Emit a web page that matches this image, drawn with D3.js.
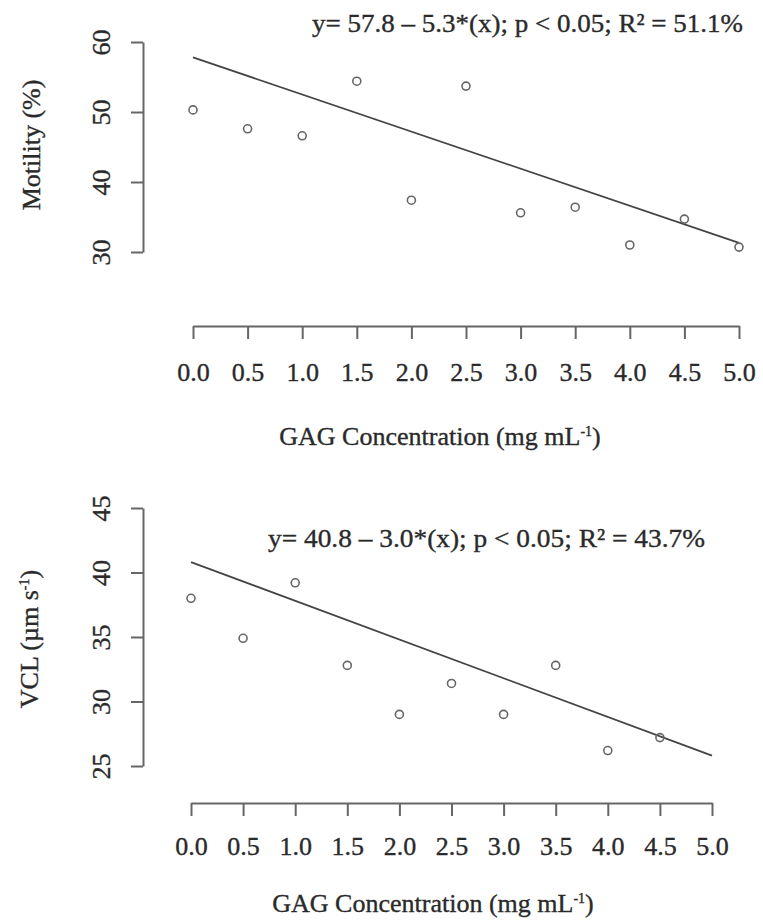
<!DOCTYPE html>
<html><head><meta charset="utf-8">
<script src="https://cdn.jsdelivr.net/npm/d3@7"></script>
<style>
html,body{margin:0;padding:0;background:#fff;}
svg{display:block;}
text{font-family:"Liberation Serif","Times New Roman",serif;fill:#2a2a2a;stroke:#2a2a2a;stroke-width:0.35px;}
</style></head>
<body>
<script>
// ---------- data ----------
const xTicks = [0, 0.5, 1, 1.5, 2, 2.5, 3, 3.5, 4, 4.5, 5];
const xTickLabels = ["0.0","0.5","1.0","1.5","2.0","2.5","3.0","3.5","4.0","4.5","5.0"];
const motilityConc = [0, 0.5, 1, 1.5, 2, 2.5, 3, 3.5, 4, 4.5, 5];
const motility = [50.3, 47.6, 46.6, 54.4, 37.4, 53.7, 35.6, 36.4, 31.0, 34.7, 30.7];
const motilityTicks = [30, 40, 50, 60];
const motilityFit = {intercept: 57.8, slope: -5.3};
const vclConc = [0, 0.5, 1, 1.5, 2, 2.5, 3, 3.5, 4, 4.5];
const vcl = [38.0, 34.9, 39.2, 32.8, 29.0, 31.4, 29.0, 32.8, 26.2, 27.2];
const vclTicks = [25, 30, 35, 40, 45];
const vclFit = {intercept: 40.8, slope: -3.0};
const fitRange = [0, 5];

const W = 763, H = 922;
const svg = d3.select("body").append("svg").attr("width", W).attr("height", H);

const FS = 26;
const axisColor = "#666";

function panel(cfg) {
  const g = svg.append("g");
  const x = d3.scaleLinear().domain([0, 5]).range(cfg.xRange);
  const y = d3.scaleLinear().domain(cfg.yDomain).range(cfg.yRange);

  // y axis
  const yAx = g.append("g").attr("transform", `translate(${cfg.yAxisX},0)`)
    .call(d3.axisLeft(y).tickValues(cfg.yTicks).tickSize(12).tickSizeOuter(0).tickFormat(d3.format("d")));
  yAx.selectAll("path,line").attr("stroke", axisColor).attr("stroke-width", 2);
  yAx.selectAll("text").attr("transform", "rotate(-90)").attr("x", 0).attr("y", -33).attr("dy", 0)
    .attr("text-anchor", "middle").style("font-size", FS + "px").style("font-family", "Liberation Serif").attr("fill", "#2a2a2a");

  // x axis
  const xAx = g.append("g").attr("transform", `translate(0,${cfg.xAxisY})`)
    .call(d3.axisBottom(x).tickValues(xTicks).tickSize(13).tickSizeOuter(0).tickFormat((d, i) => xTickLabels[i]));
  xAx.selectAll("path,line").attr("stroke", axisColor).attr("stroke-width", 2);
  xAx.selectAll("text").attr("y", cfg.xLabelOff).attr("dy", 0)
    .style("font-size", FS + "px").style("font-family", "Liberation Serif").attr("fill", "#2a2a2a");

  // regression line
  const line = d3.line().x(d => x(d)).y(d => y(cfg.fit.intercept + cfg.fit.slope * d));
  g.append("path").datum(fitRange).attr("d", line).attr("fill", "none")
    .attr("stroke", "#444").attr("stroke-width", 1.8);

  // points
  g.selectAll("circle.pt").data(cfg.xs).enter().append("circle")
    .attr("cx", d => x(d)).attr("cy", (d, i) => y(cfg.ys[i])).attr("r", 4)
    .attr("fill", "none").attr("stroke", "#666").attr("stroke-width", 1.6);

  // equation
  g.append("text").attr("x", cfg.eqX).attr("y", cfg.eqY).style("font-size", FS + "px")
    .attr("textLength", cfg.eqLen).attr("lengthAdjust", "spacingAndGlyphs").text(cfg.eq);

  // y title
  const yt = g.append("text").attr("transform", `translate(${cfg.yTitleX},${cfg.yTitleY}) rotate(-90)`)
    .attr("text-anchor", "middle").style("font-size", FS + "px");
  cfg.yTitle(yt);

  // x title
  const xt = g.append("text").attr("x", cfg.xTitleX).attr("y", cfg.xTitleY)
    .attr("text-anchor", "middle").style("font-size", FS + "px");
  xt.append("tspan").text("GAG Concentration (mg mL");
  xt.append("tspan").attr("dy", -9).style("font-size", "14px").text("-1");
  xt.append("tspan").attr("dy", 9).text(")");
}

panel({
  xRange: [193, 739], yDomain: [30, 60], yRange: [252, 42],
  yTicks: motilityTicks, yAxisX: 143, xAxisY: 326, xLabelOff: 55,
  xs: motilityConc, ys: motility, fit: motilityFit,
  eq: "y= 57.8 – 5.3*(x); p < 0.05; R² = 51.1%", eqX: 312, eqY: 32, eqLen: 431,
  yTitleX: 40, yTitleY: 145,
  yTitle: t => t.text("Motility (%)"),
  xTitleX: 440, xTitleY: 445
});

panel({
  xRange: [191, 712], yDomain: [25, 45], yRange: [766, 508],
  yTicks: vclTicks, yAxisX: 143, xAxisY: 803, xLabelOff: 52,
  xs: vclConc, ys: vcl, fit: vclFit,
  eq: "y= 40.8 – 3.0*(x); p < 0.05; R² = 43.7%", eqX: 268, eqY: 547, eqLen: 437,
  yTitleX: 38, yTitleY: 639,
  yTitle: t => { t.append("tspan").text("VCL (µm s"); t.append("tspan").attr("dy", -9).style("font-size", "14px").text("-1"); t.append("tspan").attr("dy", 9).text(")"); },
  xTitleX: 433, xTitleY: 912
});
</script>
</body></html>
